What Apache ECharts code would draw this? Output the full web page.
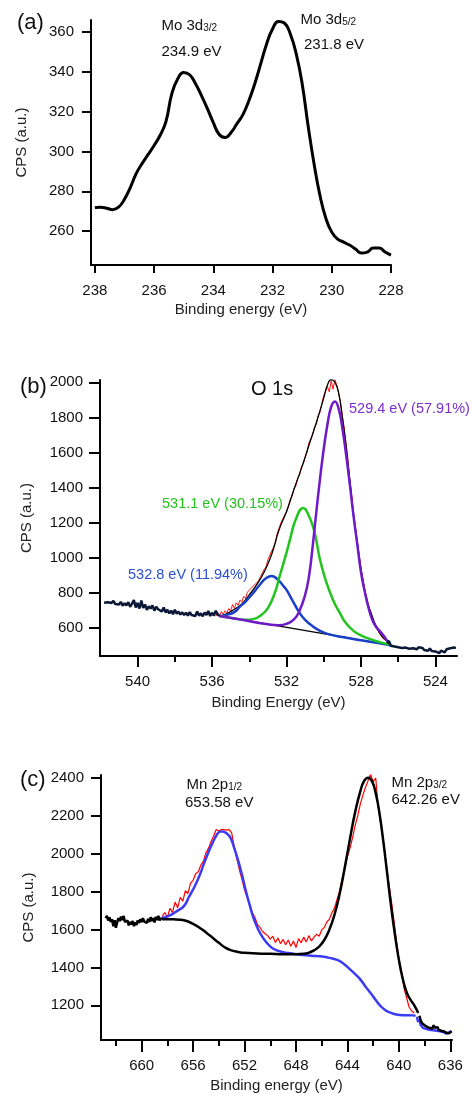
<!DOCTYPE html>
<html>
<head>
<meta charset="utf-8">
<script src="https://cdn.jsdelivr.net/npm/echarts@6/dist/echarts.min.js"></script>
<style>
  html, body { margin: 0; padding: 0; background: #ffffff; }
  #chart { width: 473px; height: 1094px; }
</style>
</head>
<body>
<div id="chart"></div>
<script>
// ---------- (a) Mo 3d spectrum ----------
const moEnergy = [238.0, 237.8, 237.6, 237.4, 237.2, 237.0, 236.8, 236.6, 236.4, 236.2,
  236.0, 235.8, 235.6, 235.4, 235.2, 235.0, 234.8, 234.6, 234.4, 234.2,
  234.0, 233.8, 233.6, 233.4, 233.2, 233.0, 232.8, 232.6, 232.4, 232.2,
  232.0, 231.8, 231.6, 231.4, 231.2, 231.0, 230.8, 230.6, 230.4, 230.2,
  230.0, 229.8, 229.6, 229.4, 229.2, 229.0, 228.8, 228.6, 228.4, 228.2, 228.0];
const moCps = [271.8, 272, 271.5, 270.8, 272, 276, 282, 289, 294, 298.5,
  303, 308, 315, 329, 336.5, 339.7, 338.5, 334, 328, 321.5,
  314.5, 308.5, 307, 309.5, 314, 318.5, 325.5, 334, 344, 354,
  361.5, 365.3, 364.5, 359, 349, 334, 313, 294, 278, 266.5,
  259.5, 256, 254.5, 253, 251, 249, 249.5, 251.5, 251.5, 249.5, 248];
const moTicksX = [238, 236, 234, 232, 230, 228];
const moTicksY = [260, 280, 300, 320, 340, 360];

// ---------- (b) O 1s spectrum ----------
// measured counts, sampled every 0.1 eV going down in energy
const o1sLowStart = 541.8;
const o1sLowCps = [745, 752, 748, 758, 744, 756, 738, 745, 735, 750,
  728, 742, 730, 748, 722, 740, 760, 718, 745, 712,
  758, 715, 735, 705, 725, 712, 730, 700, 722, 708,
  715, 695, 718, 690, 705, 685, 700, 680, 705, 683,
  695, 678, 690, 676, 688, 672, 692, 675, 685, 670,
  695, 672, 685, 668, 690, 675, 698, 670, 688, 672,
  700, 678, 672];
const o1sPeakStart = 535.8;
const o1sPeakCps = [668, 690, 672, 695, 680, 700, 688, 712, 698, 735,
  712, 745, 730, 760, 748, 782, 770, 805, 800, 828,
  822, 848, 858, 870, 895, 905, 935, 950, 990, 1000,
  1040, 1060, 1085, 1140, 1150, 1200, 1195, 1245, 1260, 1290,
  1335, 1350, 1395, 1410, 1455, 1470, 1520, 1535, 1570, 1600,
  1655, 1665, 1700, 1745, 1760, 1810, 1830, 1880, 1925, 1935,
  1975, 1945, 2010, 1960, 2015, 1985, 1935, 1890, 1810, 1740,
  1650, 1560, 1445, 1360, 1250, 1180, 1085, 1020, 935, 885,
  810, 780, 720, 705, 660, 650, 605, 600, 570, 565,
  540, 540, 525, 522];
const o1sHighStart = 526.6;
const o1sHighCps = [515, 528, 500, 508, 496, 505, 492, 500, 488, 498,
  490, 495, 483, 492, 486, 490, 480, 492, 482, 488,
  476, 485, 472, 484, 470, 478, 468, 474, 458, 472,
  476, 462, 480, 470, 486, 484, 490, 488];
// fitted curves: [binding energy, counts]
const o1sEnvelope = [[535.6, 668], [535.2, 683], [534.8, 708], [534.4, 738], [534.0, 790],
  [533.6, 848], [533.2, 920], [532.8, 1020], [532.4, 1160], [532.0, 1265],
  [531.6, 1390], [531.2, 1510], [530.8, 1640], [530.4, 1770], [530.0, 1910],
  [529.8, 1985], [529.6, 2015], [529.4, 2000], [529.2, 1940], [529.0, 1800],
  [528.8, 1640], [528.6, 1440], [528.4, 1250], [528.2, 1090], [528.0, 940],
  [527.8, 820], [527.6, 730], [527.4, 670], [527.2, 615], [527.0, 575],
  [526.8, 545], [526.6, 528], [526.4, 512]];
const o1sBackground = [[535.6, 670], [526.5, 505]];
const o1sPeak532 = [[535.6, 670], [535.2, 676], [534.8, 692], [534.5, 723], [534.2, 752],
  [533.8, 799], [533.4, 852], [533.1, 885], [532.8, 898], [532.5, 880],
  [532.2, 845], [532.0, 818], [531.7, 762], [531.3, 688], [531.0, 648],
  [530.6, 612], [530.2, 585], [529.8, 568], [529.0, 550], [528.0, 532],
  [527.0, 514], [526.4, 503]];
const o1sPeak531 = [[535.6, 670], [534.8, 656], [534.2, 648], [533.8, 652], [533.4, 672],
  [533.0, 715], [532.6, 810], [532.4, 885], [532.0, 1030], [531.8, 1110],
  [531.5, 1220], [531.1, 1284], [530.8, 1240], [530.5, 1150], [530.2, 990],
  [529.9, 875], [529.5, 761], [529.1, 680], [528.8, 628], [528.4, 585],
  [528.0, 560], [527.5, 538], [527.0, 521], [526.5, 507]];
const o1sPeak529 = [[535.6, 670], [534.4, 648], [533.2, 626], [532.4, 617], [532.0, 625],
  [531.6, 650], [531.3, 700], [531.0, 790], [530.8, 890], [530.6, 1060],
  [530.4, 1260], [530.2, 1450], [530.0, 1620], [529.8, 1760], [529.6, 1860],
  [529.4, 1890], [529.2, 1850], [529.0, 1740], [528.8, 1590], [528.6, 1420],
  [528.4, 1240], [528.2, 1080], [528.0, 920], [527.8, 810], [527.6, 720],
  [527.4, 650], [527.2, 610], [527.0, 585], [526.8, 560], [526.6, 530], [526.4, 505]];
const o1sTicksX = [540, 536, 532, 528, 524];
const o1sMinorX = [538, 534, 530, 526];
const o1sTicksY = [600, 800, 1000, 1200, 1400, 1600, 1800, 2000];

// ---------- (c) Mn 2p spectrum ----------
const mnLowStart = 662.8;
const mnLowCps = [1660, 1672, 1648, 1665, 1640, 1655, 1618, 1650, 1610, 1640,
  1660, 1645, 1668, 1650, 1672, 1640, 1630, 1648, 1622, 1640,
  1628, 1645, 1618, 1638, 1625, 1648, 1635, 1655, 1640, 1660,
  1642, 1652, 1636, 1656, 1640, 1665, 1645, 1660, 1638, 1668,
  1650, 1672, 1648, 1660, 1655];
// sampled every 0.2 eV
const mnPeakStart = 658.4;
const mnPeakCps = [1670, 1690, 1665, 1712, 1690, 1745, 1715, 1770, 1750, 1805,
  1790, 1845, 1860, 1895, 1905, 1940, 1960, 2005, 2030, 2065,
  2095, 2128, 2120, 2128, 2128, 2125, 2128, 2110, 2035, 1975,
  1915, 1865, 1810, 1770, 1730, 1690, 1665, 1628, 1612, 1590,
  1578, 1568, 1550, 1565, 1532, 1555, 1525, 1548, 1520, 1545,
  1512, 1540, 1505, 1552, 1530, 1560, 1535, 1568, 1540, 1560,
  1575, 1565, 1598, 1612, 1640, 1655, 1690, 1715, 1760, 1805,
  1870, 1925, 1985, 2030, 2085, 2150, 2200, 2262, 2310, 2350,
  2385, 2420, 2380, 2400, 2240, 2160, 2065, 1955, 1850, 1760,
  1655, 1545, 1445, 1380, 1290, 1240, 1190, 1170, 1160];
const mnTailStart = 638.4;
const mnTailCps = [1145, 1120, 1105, 1112, 1095, 1102, 1086, 1094, 1080, 1090,
  1078, 1095, 1082, 1074, 1085, 1070, 1078, 1066, 1074, 1062,
  1068, 1055, 1048, 1052, 1060, 1064];
const mnTailFitStart = 638.6;
const mnTailFitCps = [1140, 1112, 1125, 1095, 1088, 1080, 1085, 1076, 1082, 1072,
  1078, 1070, 1075, 1068, 1074, 1066, 1070, 1064, 1070, 1062,
  1066, 1058, 1062, 1050, 1045, 1058, 1060, 1062];
const mnFit2p12 = [[658.4, 1662], [657.8, 1675], [657.2, 1700], [656.7, 1725], [656.3, 1775],
  [655.9, 1825], [655.5, 1885], [655.2, 1940], [654.8, 2010], [654.5, 2055],
  [654.2, 2095], [653.9, 2117], [653.7, 2118], [653.4, 2108], [653.1, 2085],
  [652.8, 2030], [652.5, 1965], [652.2, 1890], [651.9, 1805], [651.6, 1730],
  [651.3, 1660], [651.0, 1610], [650.6, 1560], [650.2, 1525], [649.8, 1500],
  [649.2, 1484], [648.6, 1476], [648.0, 1470], [647.4, 1466], [646.8, 1462],
  [646.1, 1459], [645.5, 1452], [644.8, 1440], [644.3, 1420], [643.8, 1390],
  [643.3, 1358], [643.0, 1337], [642.6, 1300], [642.2, 1265], [641.8, 1228],
  [641.4, 1195], [641.0, 1172], [640.6, 1160], [640.2, 1152], [639.6, 1148],
  [638.9, 1147], [638.7, 1145]];
const mnFit2p32 = [[658.4, 1655], [657.5, 1654], [657.0, 1652], [656.5, 1645], [656.0, 1630],
  [655.5, 1610], [655.0, 1585], [654.5, 1558], [654.0, 1530], [653.5, 1505],
  [653.0, 1490], [652.5, 1482], [652.0, 1477], [651.0, 1474], [650.0, 1472],
  [649.0, 1470], [648.0, 1470], [647.4, 1472], [647.0, 1478], [646.6, 1490],
  [646.2, 1510], [645.8, 1545], [645.4, 1600], [645.0, 1680], [644.6, 1790],
  [644.2, 1930], [643.8, 2080], [643.4, 2220], [643.0, 2330], [642.7, 2385],
  [642.4, 2402], [642.1, 2385], [641.8, 2320], [641.5, 2210], [641.2, 2060],
  [640.9, 1890], [640.6, 1720], [640.3, 1570], [640.0, 1440], [639.7, 1340],
  [639.4, 1270], [639.1, 1230], [638.8, 1200], [638.5, 1160]];
const mnTicksX = [660, 656, 652, 648, 644, 640, 636];
const mnMinorX = [662, 658, 654, 650, 646, 642, 638];
const mnTicksY = [1200, 1400, 1600, 1800, 2000, 2200, 2400];

// ---------- helpers ----------
const FONT = 'Liberation Sans, Arial, sans-serif';
function sampled(start, step, values) {
  return values.map((v, i) => [Math.round((start - i * step) * 100) / 100, v]);
}
function xAxisMain(grid, min, max, ticks, len, nameGap) {
  return {
    type: 'value', gridIndex: grid, min: min, max: max, inverse: true, position: 'bottom',
    name: grid === 1 ? 'Binding Energy (eV)' : 'Binding energy (eV)',
    nameLocation: 'middle', nameGap: nameGap,
    nameTextStyle: { fontFamily: FONT, fontSize: 15, color: '#222' },
    axisLine: { show: true, onZero: false, lineStyle: { color: '#000', width: 2 } },
    axisTick: { show: true, length: len, customValues: ticks, lineStyle: { color: '#000', width: 2 } },
    axisLabel: { show: true, customValues: ticks, margin: 18, fontFamily: FONT, fontSize: 15, color: '#111',
      formatter: v => String(v) },
    splitLine: { show: false }
  };
}
function xAxisMinor(grid, min, max, ticks) {
  return {
    type: 'value', gridIndex: grid, min: min, max: max, inverse: true, position: 'bottom',
    axisLine: { show: false, onZero: false },
    axisTick: { show: true, length: 6, customValues: ticks, lineStyle: { color: '#000', width: 2 } },
    axisLabel: { show: false },
    splitLine: { show: false }
  };
}
function yAxis(grid, min, max, ticks, len, nameGap) {
  return {
    type: 'value', gridIndex: grid, min: min, max: max,
    name: 'CPS (a.u.)', nameLocation: 'middle', nameGap: nameGap,
    nameTextStyle: { fontFamily: FONT, fontSize: 15, color: '#222' },
    axisLine: { show: true, onZero: false, lineStyle: { color: '#000', width: 2 } },
    axisTick: { show: true, length: len, customValues: ticks, lineStyle: { color: '#000', width: 2 } },
    axisLabel: { show: true, customValues: ticks, margin: 17, fontFamily: FONT, fontSize: 15, color: '#111',
      formatter: v => String(v) },
    splitLine: { show: false }
  };
}
function line(xi, yi, data, color, width, smooth) {
  return {
    type: 'line', xAxisIndex: xi, yAxisIndex: yi, data: data, showSymbol: false, symbol: 'none',
    smooth: smooth, lineStyle: { color: color, width: width }, silent: true, z: 2
  };
}
function label(x, y, text, size, color, rich) {
  const style = { text: text, x: 0, y: 0, fill: color, align: 'left', verticalAlign: 'middle',
    font: size + 'px ' + FONT };
  if (rich) style.rich = rich;
  return { type: 'text', x: x, y: y, style: style, z: 10 };
}
function subRich(size, color) {
  return {
    m: { fontSize: size, fontFamily: FONT, fill: color, lineHeight: size + 3, verticalAlign: 'bottom' },
    s: { fontSize: 10, fontFamily: FONT, fill: color, lineHeight: 10, verticalAlign: 'bottom' }
  };
}

const moSeries = moEnergy.map((e, i) => [e, moCps[i]]);

const option = {
  animation: false,
  backgroundColor: '#ffffff',
  grid: [
    { left: 91, top: 20, width: 300, height: 245 },
    { left: 100, top: 380, width: 357, height: 276 },
    { left: 101, top: 775, width: 351, height: 266 }
  ],
  xAxis: [
    xAxisMain(0, 228, 238.13, moTicksX, 8, 37),
    xAxisMain(1, 522.84, 542.02, o1sTicksX, 11, 39),
    xAxisMain(2, 635.87, 663.16, mnTicksX, 12, 38),
    xAxisMinor(1, 522.84, 542.02, o1sMinorX),
    xAxisMinor(2, 635.87, 663.16, mnMinorX)
  ],
  yAxis: [
    yAxis(0, 243, 366, moTicksY, 9, 62),
    yAxis(1, 442, 2013, o1sTicksY, 11, 66),
    yAxis(2, 1017, 2416, mnTicksY, 10, 65)
  ],
  series: [
    line(0, 0, moSeries, '#000000', 3, true),

    line(1, 1, sampled(o1sPeakStart, 0.1, o1sPeakCps), '#ff1a1a', 1, false),
    line(1, 1, o1sEnvelope, '#000000', 1.3, true),
    line(1, 1, o1sBackground, '#000000', 1.3, false),
    line(1, 1, o1sPeak532, '#1a3fc8', 2.5, true),
    line(1, 1, o1sPeak531, '#22c41e', 2.5, true),
    line(1, 1, o1sPeak529, '#7019c8', 2.5, true),
    line(1, 1, sampled(o1sLowStart, 0.1, o1sLowCps), '#0c1838', 2.5, false),
    line(1, 1, sampled(o1sHighStart, 0.1, o1sHighCps), '#0c1838', 2.5, false),

    line(2, 2, sampled(mnPeakStart, 0.2, mnPeakCps), '#ff0000', 1.2, false),
    line(2, 2, mnFit2p12, '#3b3bf5', 2.5, true),
    line(2, 2, sampled(mnTailFitStart, 0.1, mnTailFitCps), '#3b3bf5', 2.5, false),
    line(2, 2, mnFit2p32, '#000000', 2.5, true),
    line(2, 2, sampled(mnLowStart, 0.1, mnLowCps), '#000000', 2.5, false),
    line(2, 2, sampled(mnTailStart, 0.1, mnTailCps), '#000000', 2.5, false)
  ],
  graphic: [
    label(17, 23, '(a)', 22, '#111'),
    label(161.5, 24, '{m|Mo 3d}{s|3/2}', 15, '#111', subRich(15, '#111')),
    label(161.5, 52, '234.9 eV', 15, '#111'),
    label(300.5, 18, '{m|Mo 3d}{s|5/2}', 15, '#111', subRich(15, '#111')),
    label(304, 45, '231.8 eV', 15, '#111'),

    label(20, 387, '(b)', 22, '#111'),
    label(251, 389, 'O 1s', 20, '#111'),
    label(349, 409, '529.4 eV (57.91%)', 14.5, '#7a2fd0'),
    label(162, 504, '531.1 eV (30.15%)', 14.5, '#22c41e'),
    label(128, 575, '532.8 eV (11.94%)', 14.5, '#2a4fd0'),

    label(20, 780, '(c)', 22, '#111'),
    label(186.5, 783, '{m|Mn 2p}{s|1/2}', 15, '#111', subRich(15, '#111')),
    label(185, 803, '653.58 eV', 15, '#111'),
    label(391.5, 781, '{m|Mn 2p}{s|3/2}', 15, '#111', subRich(15, '#111')),
    label(391.5, 800, '642.26 eV', 15, '#111')
  ]
};

const chart = echarts.init(document.getElementById('chart'), null, { renderer: 'canvas' });
chart.setOption(option);
</script>
</body>
</html>
